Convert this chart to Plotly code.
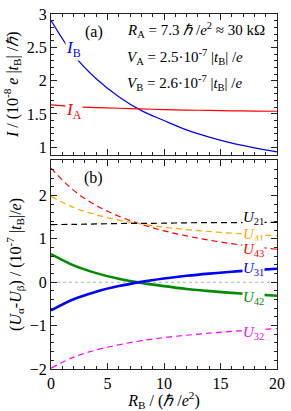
import plotly.graph_objects as go

# ---- data ----
R = [0, 2, 4, 6, 8, 10, 12, 14, 16, 18, 20]

I_B = [2.91, 2.39, 2.03, 1.76, 1.55, 1.40, 1.26, 1.15, 1.06, 0.99, 0.93]
I_A = [1.635, 1.61, 1.595, 1.585, 1.575, 1.565, 1.558, 1.552, 1.547, 1.543, 1.54]

U21 = [1.33, 1.334, 1.344, 1.353, 1.357, 1.361, 1.37, 1.374, 1.375, 1.378, 1.38]
U41 = [1.98, 1.724, 1.554, 1.433, 1.342, 1.271, 1.215, 1.169, 1.13, 1.098, 1.07]
U43 = [2.63, 2.117, 1.771, 1.522, 1.333, 1.185, 1.067, 0.97, 0.888, 0.819, 0.76]
U31 = [-0.65, -0.393, -0.217, -0.089, 0.009, 0.086, 0.148, 0.199, 0.242, 0.279, 0.31]
U42 = [0.65, 0.39, 0.21, 0.08, -0.015, -0.09, -0.155, -0.205, -0.245, -0.28, -0.31]
U32 = [-1.98, -1.727, -1.561, -1.442, -1.348, -1.275, -1.222, -1.175, -1.133, -1.099, -1.07]

FONT = "Liberation Serif"

fig = go.Figure()

def add(y, color, width, dash, xa, ya):
    fig.add_trace(go.Scatter(x=R, y=y, mode="lines", line=dict(color=color, width=width, dash=dash, shape="spline"),
                             xaxis=xa, yaxis=ya, showlegend=False, hoverinfo="skip"))

# top panel
add(I_B, "#0000ff", 1.2, "solid", "x", "y")
add(I_A, "#ff0000", 1.2, "solid", "x", "y")

# bottom panel
fig.add_trace(go.Scatter(x=[0, 20], y=[0, 0], mode="lines", line=dict(color="#999999", width=0.8, dash="dot"),
                         xaxis="x2", yaxis="y2", showlegend=False, hoverinfo="skip"))
add(U43, "#ff0000", 1.2, "6px,4px", "x2", "y2")
add(U41, "#ffa500", 1.2, "6px,4px", "x2", "y2")
add(U21, "#000000", 1.2, "6px,4px", "x2", "y2")
add(U32, "#ff00ff", 1.2, "6px,4px", "x2", "y2")
add(U42, "#008c00", 2.6, "solid", "x2", "y2")
add(U31, "#0000ff", 2.6, "solid", "x2", "y2")

axis_common = dict(showline=True, linecolor="#222222", linewidth=1, mirror="allticks", ticks="inside",
                   ticklen=6, tickcolor="#222222", showgrid=False, zeroline=False, ticklabeloverflow="allow",
                   tickfont=dict(family=FONT, size=16, color="black"))

fig.update_layout(
    width=291, height=411,
    margin=dict(l=51, r=8, t=6, b=41),
    paper_bgcolor="white", plot_bgcolor="white",
    font=dict(family=FONT, size=15, color="black"),
    xaxis=dict(axis_common, domain=[0, 1], range=[0, 20], dtick=5, showticklabels=False, anchor="y",
               minor=dict(ticks="inside", ticklen=3, dtick=1, tickcolor="#222222")),
    yaxis=dict(axis_common, domain=[0.604, 1], range=[0.888, 3.004], dtick=0.5, anchor="x",
               minor=dict(ticks="inside", ticklen=3, dtick=0.1, tickcolor="#222222"),
               title=dict(text="<i>I</i> / (10<sup>-8</sup> <i>e</i> |<i>t</i><sub>B</sub>| /<i>ℏ</i>)",
                          font=dict(family=FONT, size=16), standoff=4)),
    xaxis2=dict(axis_common, domain=[0, 1], range=[0, 20], dtick=5, anchor="y2",
                minor=dict(ticks="inside", ticklen=3, dtick=1, tickcolor="#222222"),
                title=dict(text="<i>R</i><sub>B</sub> / (<i>ℏ</i> /<i>e</i><sup>2</sup>)",
                           font=dict(family=FONT, size=16), standoff=2)),
    yaxis2=dict(axis_common, domain=[0, 0.589], range=[-2.0, 2.82], dtick=1, anchor="x2",
                minor=dict(ticks="inside", ticklen=3, dtick=0.2, tickcolor="#222222"),
                title=dict(text="(<i>U</i><sub>α</sub>-<i>U</i><sub>β</sub>) / (10<sup>-7</sup> |<i>t</i><sub>B</sub>|/<i>e</i>)",
                           font=dict(family=FONT, size=16), standoff=4)),
)

ann = []
def lab(text, x, y, color, xr="x", yr="y", xanchor="center", bg="rgba(0,0,0,0)", size=16):
    ann.append(dict(text=text, x=x, y=y, xref=xr, yref=yr, showarrow=False, xanchor=xanchor,
                    yanchor="middle", font=dict(family=FONT, size=size, color=color), bgcolor=bg, borderpad=0))

# top panel texts
lab("(a)", 3.8, 2.73, "black")
lab("<i>I</i><sub>B</sub>", 2.0, 2.48, "#0000ff", bg="white", size=17)
lab("<i>I</i><sub>A</sub>", 2.0, 1.55, "#ff0000", bg="white", size=17)
lab("<i>R</i><sub>A</sub> = 7.3 <i>ℏ</i> /<i>e</i><sup>2</sup> ≈ 30 kΩ", 6.6, 2.76, "black", xanchor="left", size=15)
lab("<i>V</i><sub>A</sub> = 2.5·10<sup>-7</sup> |<i>t</i><sub>B</sub>| /<i>e</i>", 6.6, 2.36, "black", xanchor="left", size=15)
lab("<i>V</i><sub>B</sub> = 2.6·10<sup>-7</sup> |<i>t</i><sub>B</sub>| /<i>e</i>", 6.6, 1.96, "black", xanchor="left", size=15)

# bottom panel texts
lab("(b)", 3.8, 2.41, "black", "x2", "y2")
lab("<i>U</i><sub>21</sub>", 17.9, 1.47, "black", "x2", "y2", bg="white", size=15)
lab("<i>U</i><sub>41</sub>", 17.9, 1.09, "#ffa500", "x2", "y2", bg="white", size=15)
lab("<i>U</i><sub>43</sub>", 17.9, 0.75, "#ff0000", "x2", "y2", bg="white", size=15)
lab("<i>U</i><sub>31</sub>", 17.9, 0.30, "#0000ff", "x2", "y2", bg="white", size=15)
lab("<i>U</i><sub>42</sub>", 17.9, -0.37, "#008c00", "x2", "y2", bg="white", size=15)
lab("<i>U</i><sub>32</sub>", 17.9, -1.18, "#ff00ff", "x2", "y2", bg="white", size=15)

fig.update_layout(annotations=ann)

fig.write_html("out.html", config={"displayModeBar": False, "staticPlot": True},
               post_script="document.body.style.margin='0';document.body.style.overflow='hidden';")
